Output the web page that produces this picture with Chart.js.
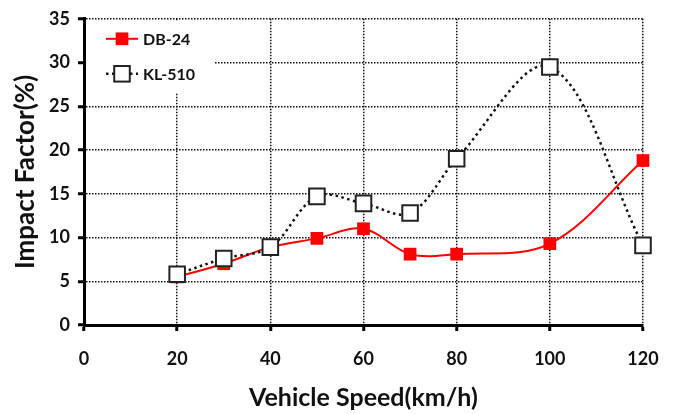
<!DOCTYPE html>
<html><head><meta charset="utf-8">
<script src="https://cdn.jsdelivr.net/npm/chart.js@4"></script>
<style>html,body{margin:0;padding:0;background:#fff}#wrap{width:678px;height:414px}</style>
</head><body><div id="wrap"><canvas id="c" width="678" height="414"></canvas></div>
<script>
const speeds = [20, 30, 40, 50, 60, 70, 80, 100, 120];
const db24 = [5.5, 7.0, 8.9, 9.9, 11.0, 8.1, 8.1, 9.3, 18.8];
const kl510 = [5.8, 7.6, 8.9, 14.7, 13.9, 12.8, 19.0, 29.5, 9.1];
const seriesNames = ['DB-24', 'KL-510'];
const xTitle = 'Vehicle Speed(km/h)';
const yTitle = 'Impact Factor(%)';

const FONT = 'Lato, "Open Sans", sans-serif';

const legendPlugin = {
  id: 'boxLegend',
  beforeDatasetsDraw(chart) {
    const ctx = chart.ctx, a = chart.chartArea;
    ctx.save();
    ctx.fillStyle = '#fff';
    ctx.fillRect(a.left + 2, a.top + 2, 129, 72);
    ctx.restore();
  },
  afterDatasetsDraw(chart) {
    const ctx = chart.ctx, a = chart.chartArea;
    const items = chart.data.datasets;
    ctx.save();
    items.forEach((ds, i) => {
      const y = a.top + 20 + i * 35;
      const x0 = a.left + 22, x1 = a.left + 54, xm = (x0 + x1) / 2;
      ctx.beginPath();
      ctx.strokeStyle = ds.borderColor;
      ctx.lineWidth = ds.borderWidth;
      ctx.setLineDash(ds.borderDash || []);
      ctx.moveTo(x0, y); ctx.lineTo(x1, y); ctx.stroke();
      ctx.setLineDash([]);
      const s = ds.pointRadius * Math.SQRT1_2;
      ctx.fillStyle = ds.pointBackgroundColor;
      ctx.fillRect(xm - s, y - s, 2 * s, 2 * s);
      if (ds.pointBorderWidth) {
        ctx.strokeStyle = ds.pointBorderColor;
        ctx.lineWidth = ds.pointBorderWidth;
        ctx.strokeRect(xm - s, y - s, 2 * s, 2 * s);
      }
      ctx.fillStyle = '#111';
      ctx.font = 'bold 16px ' + FONT;
      ctx.textBaseline = 'middle';
      ctx.textAlign = 'left';
      ctx.fillText(ds.label, x1 + 5, y + 1);
    });
    ctx.restore();
  }
};

new Chart(document.getElementById('c'), {
  type: 'line',
  data: {
    datasets: [
      {
        label: seriesNames[0],
        data: speeds.map((x, i) => ({x, y: db24[i]})),
        borderColor: '#ff0000',
        borderWidth: 2,
        pointStyle: 'rect',
        pointRadius: 9,
        pointBackgroundColor: '#ff0000',
        pointBorderColor: '#ff0000',
        pointBorderWidth: 0,
        tension: 0.35,
        clip: false,
        order: 2
      },
      {
        label: seriesNames[1],
        data: speeds.map((x, i) => ({x, y: kl510[i]})),
        borderColor: '#111111',
        borderWidth: 2.5,
        borderDash: [2.5, 3.5],
        pointStyle: 'rect',
        pointRadius: 11,
        pointBackgroundColor: '#ffffff',
        pointBorderColor: '#222222',
        pointBorderWidth: 2,
        tension: 0.35,
        clip: false,
        order: 1
      }
    ]
  },
  options: {
    responsive: false,
    animation: false,
    layout: {padding: {top: 18, right: 35, bottom: 0, left: 0}},
    plugins: {legend: {display: false}, tooltip: {enabled: false}},
    scales: {
      x: {
        type: 'linear', min: 0, max: 120,
        afterFit(s) { s.height = 89; },
        ticks: {stepSize: 20, color: '#111', padding: 17, font: {family: FONT, size: 18, weight: 'bold'}},
        grid: {color: '#111', lineWidth: 1.5, tickLength: 6, tickColor: '#000', tickWidth: 3, tickBorderDash: []},
        border: {display: true, color: '#000', width: 3, dash: [1.5, 1.5]},
        title: {display: true, text: xTitle, color: '#111', padding: {top: 0, bottom: 1}, font: {family: FONT, size: 25, weight: 'bold'}}
      },
      y: {
        min: 0, max: 35,
        afterFit(s) { s.width = 84; },
        ticks: {stepSize: 5, color: '#111', padding: 8, font: {family: FONT, size: 18, weight: 'bold'}},
        grid: {color: '#111', lineWidth: 1.5, tickLength: 6, tickColor: '#000', tickWidth: 3, tickBorderDash: []},
        border: {display: true, color: '#000', width: 3, dash: [1.5, 1.5]},
        title: {display: true, text: yTitle, color: '#111', padding: {top: 10, bottom: 0}, font: {family: FONT, size: 26, weight: 'bold'}}
      }
    }
  },
  plugins: [legendPlugin]
});
</script></body></html>
